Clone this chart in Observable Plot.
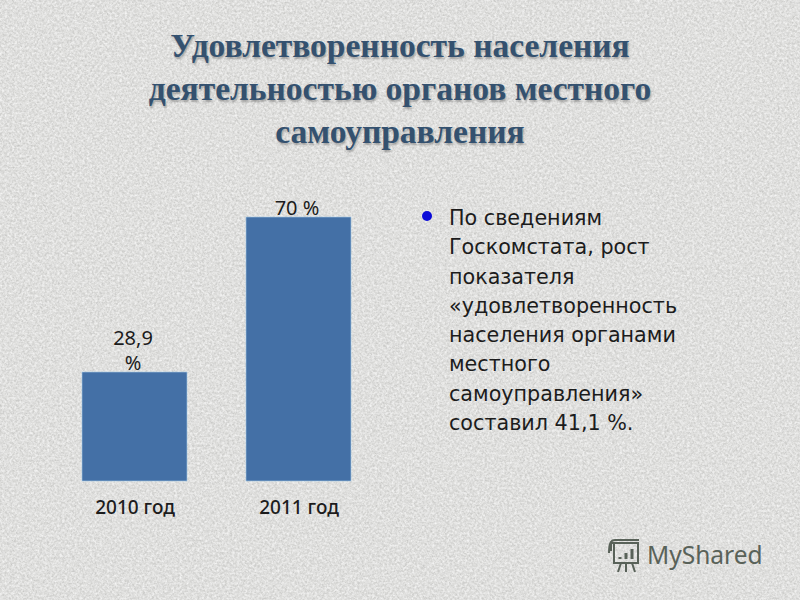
<!DOCTYPE html>
<html lang="ru">
<head>
<meta charset="utf-8">
<script src="https://cdn.jsdelivr.net/npm/d3@7"></script>
<script src="https://cdn.jsdelivr.net/npm/@observablehq/plot@0.6"></script>
<style>
html,body{margin:0;padding:0;width:800px;height:600px;overflow:hidden;background:#dcdcda}
#bg{position:absolute;left:0;top:0}
#chart{position:absolute;left:0;top:0}
#title{position:absolute;left:0;top:23.5px;width:800px;text-align:center;font:bold 33.5px/43.3px "Liberation Serif",serif;color:#34516f;text-shadow:1px 2px 2px rgba(70,70,70,.4)}
#body{position:absolute;left:449px;top:204px;width:260px;font:20.7px/29.3px "DejaVu Sans",sans-serif;color:#1c1c1c}
#bullet{position:absolute;left:422px;top:211px;width:10px;height:10px;border-radius:50%;background:#0a0ad8}
#logo{position:absolute;left:606px;top:537px}
#brand{position:absolute;left:647px;top:537px;font:24.5px/36px "Noto Sans",sans-serif;color:#596259}
</style>
</head>
<body>
<svg id="bg" width="800" height="600">
  <filter id="grain" x="0" y="0" width="100%" height="100%">
    <feTurbulence type="fractalNoise" baseFrequency="0.55" numOctaves="3" seed="7"/>
    <feColorMatrix type="matrix" values="0 0 0 0 0  0 0 0 0 0  0 0 0 0 0  1.3 0 0 0 -0.42"/>
  </filter>
  <filter id="grainLight" x="0" y="0" width="100%" height="100%">
    <feTurbulence type="fractalNoise" baseFrequency="0.4" numOctaves="3" seed="21"/>
    <feColorMatrix type="matrix" values="0 0 0 0 1  0 0 0 0 1  0 0 0 0 1  1.8 0 0 0 -0.62"/>
  </filter>
  <rect width="800" height="600" fill="#dededc"/>
  <rect width="800" height="600" filter="url(#grain)" opacity="0.14"/>
  <rect width="800" height="600" filter="url(#grainLight)" opacity="0.75"/>
</svg>
<div id="chart"></div>
<div id="title">Удовлетворенность населения<br>деятельностью органов местного<br>самоуправления</div>
<div id="bullet"></div>
<div id="body">По сведениям<br>Госкомстата, рост<br>показателя<br>«удовлетворенность<br>населения органами<br>местного<br>самоуправления»<br>составил 41,1 %.</div>
<svg id="logo" width="38" height="36" viewBox="0 0 38 36" fill="none" stroke="#596259" stroke-width="2">
  <path d="M5 6 H33 M8 6 V26 H32 V6 M5 6 V14 M3 16 C3 4 6 3 9 3 H33"/>
  <path d="M15 26 L12 35 M20 26 V35 M26 26 L29 35"/>
  <path d="M14 22 V20 M20 22 V16 M26 22 V12" stroke-width="3"/>
</svg>
<div id="brand">MyShared</div>
<script>
const years = ["2010 год", "2011 год"];
const shares = [28.9, 70];
const valueLabels = ["28,9\n%", "70 %"];

const rows = years.map((year, i) => ({year, share: shares[i], label: valueLabels[i]}));

const chart = Plot.plot({
  width: 800,
  height: 600,
  marginTop: 217,
  marginBottom: 119,
  marginLeft: 23,
  marginRight: 389.5,
  style: {background: "transparent", fontFamily: "Noto Sans, sans-serif"},
  x: {domain: years, padding: 0.357, label: null},
  y: {domain: [0, 70], axis: null},
  marks: [
    Plot.axisX({tickSize: 0, tickPadding: 19, fontSize: 19, fill: "#1c1c1c", fontWeight: 500, label: null}),
    Plot.barY(rows, {x: "year", y: "share", fill: "#4470a6", stroke: "#a9cbe6", strokeWidth: 0.6}),
    Plot.text(rows, {x: "year", y: "share", text: "label", lineAnchor: "bottom", dx: -2, dy: -3, fontSize: 20, lineHeight: 1.25, fill: "#1c1c1c"})
  ]
});
document.getElementById("chart").append(chart);
</script>
</body>
</html>
